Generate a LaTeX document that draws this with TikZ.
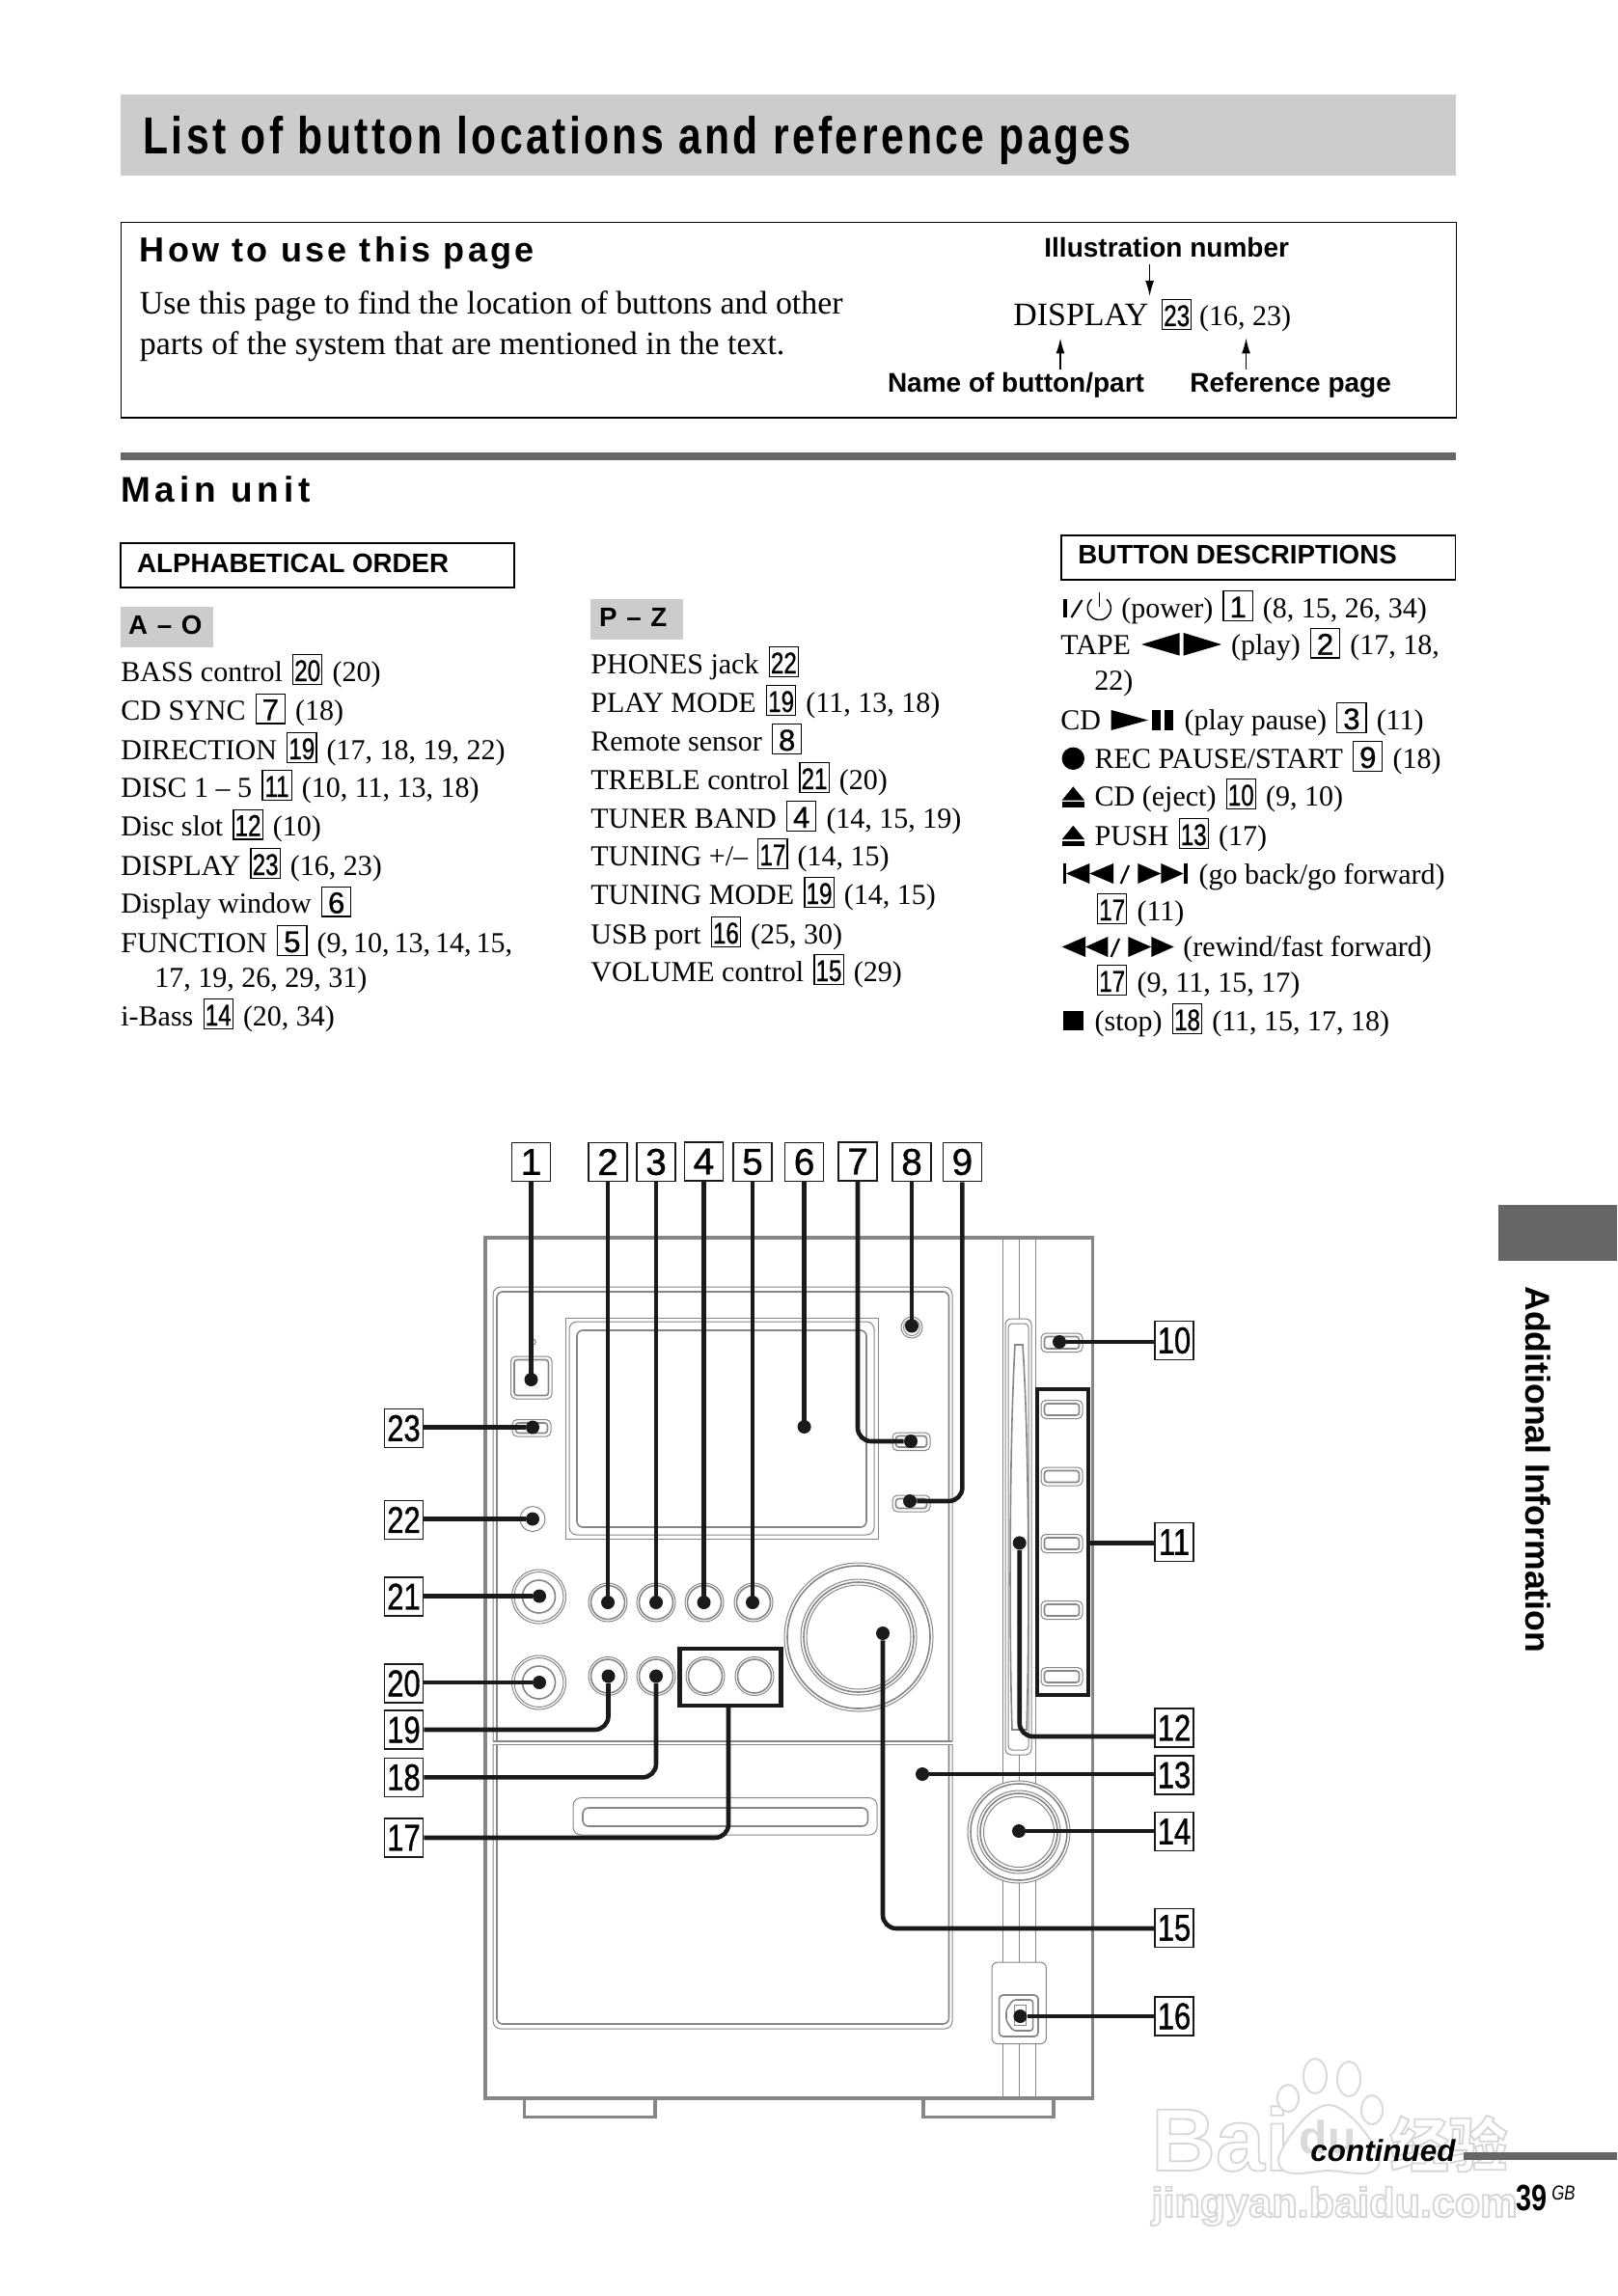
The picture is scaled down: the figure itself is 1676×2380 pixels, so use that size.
\documentclass[tikz,border=0pt]{standalone}
\usepackage{fontspec}
\usepackage{graphicx}
\setmainfont{Liberation Serif}
\setsansfont{Liberation Sans}
\newfontfamily\titlefont{Liberation Sans}[FakeStretch=0.79,LetterSpace=6.3]
\newfontfamily\headfont{Liberation Sans}[LetterSpace=9.0]
\newfontfamily\mainfont{Liberation Sans}[LetterSpace=13.0]
\newfontfamily\numfont{Liberation Sans}[FakeBold=1]
\newfontfamily\cjk{Noto Sans CJK SC}
\usetikzlibrary{arrows.meta}
\definecolor{band}{HTML}{CCCCCC}
\definecolor{darkband}{HTML}{666666}
\definecolor{unitgray}{HTML}{868686}
\definecolor{ink}{HTML}{1A1A1A}
\definecolor{wm}{HTML}{DADADA}
\newcommand\bx[1]{\kern1.3pt\relax\setlength\fboxsep{0pt}\setlength\fboxrule{.6pt}\fbox{\makebox[14.5pt]{\rule[-1.4pt]{0pt}{14.8pt}\numfont\fontsize{15.5}{16}\selectfont #1}}\kern1.3pt\relax}
\newcommand\bxx[1]{\bx{\scalebox{0.78}[1]{#1}}}
\newcommand\two[1]{\scalebox{0.8}[1]{#1}}
\newcommand\T[4]{\node[body] (#1) at (#2,#3) {#4};}
\newcommand\outl[1]{\special{pdf:code 1 Tr 0.9 w 0.84 0.84 0.84 RG}#1\special{pdf:code 0 Tr}}
\newcommand\btn[4]{\draw[thinline,rounded corners=2.5pt,fill=white] (#1,#2) rectangle (#3,#4);
  \draw[midline,rounded corners=1.5pt] (#1+3.5,#2+3.5) rectangle (#3-3.5,#4-3.5);}
\tikzset{
  body/.style={anchor=base west,inner sep=0pt,font=\fontsize{15}{18}\selectfont},
  bodylg/.style={anchor=base west,inner sep=0pt,font=\fontsize{16.95}{20}\selectfont},
  small/.style={anchor=base west,inner sep=0pt,font=\sffamily\bfseries\fontsize{14}{18}\selectfont},
  subhead/.style={anchor=base west,inner sep=0pt,font=\sffamily\bfseries\fontsize{13.85}{18}\selectfont},
  heading/.style={anchor=base west,inner sep=0pt,font=\headfont\bfseries\fontsize{18}{22}\selectfont},
  numbox/.style={draw=ink,line width=.8pt,fill=white,minimum size=20pt,inner sep=0pt,font=\numfont\fontsize{19.3}{20}\selectfont},
  dot/.style={circle,fill=ink,inner sep=0pt,minimum size=7pt},
  lead/.style={draw=ink,line width=2.3pt,rounded corners=7pt},
  unitline/.style={draw=unitgray,line width=1.7pt},
  thinline/.style={draw=unitgray,line width=.5pt},
  midline/.style={draw=unitgray,line width=.8pt},
  ptr/.style={draw=black,line width=.7pt,-{Latex[length=8pt,width=4.5pt]}},
  sym/.style={fill=black,draw=none},
}
\begin{document}
\begin{tikzpicture}[x=0.5pt,y=-0.5pt]
\useasboundingbox[fill=white] (0,0) rectangle (1676,2380);

% ---------- header
\fill[band] (125,98) rectangle (1509,182);
\node[anchor=base west,inner sep=0pt,font=\titlefont\bfseries\fontsize{27}{30}\selectfont] (title) at (148,160) {List of button locations and reference pages};
\draw[black,line width=.9pt] (125.5,230.5) rectangle (1509.5,433);
\node[heading] (howto) at (144.5,271.5) {How to use this page};
\node[bodylg] (use1) at (144.5,326) {Use this page to find the location of buttons and other};
\node[bodylg] (use2) at (144.5,368) {parts of the system that are mentioned in the text.};
\node[small] (illus) at (1082,267) {Illustration number};
\node[bodylg] (disp) at (1050,338) {DISPLAY};
\node[body] (dispn) at (1201,338) {\bxx{23}\,(16, 23)};
\node[small] (namebp) at (919.6,407) {Name of button/part};
\node[small] (refpg) at (1233,407) {Reference page};
\coordinate (i1) at (1191.6,274); \coordinate (i2) at (1191.6,307);
\coordinate (n1) at (1099,383); \coordinate (n2) at (1099,350.5);
\coordinate (r1) at (1291.5,383); \coordinate (r2) at (1291.5,350.5);
\draw[ptr] (i1) -- (i2);
\draw[ptr] (n1) -- (n2);
\draw[ptr] (r1) -- (r2);

\fill[darkband] (125,469) rectangle (1509,477);
\node[anchor=base west,inner sep=0pt,font=\mainfont\bfseries\fontsize{18.5}{22}\selectfont] (mainunit) at (125,520) {Main unit};

% ---------- column headers
\draw[black,line width=.8pt] (125,563) rectangle (533,609);
\node[subhead] (alpha) at (141.7,593) {ALPHABETICAL ORDER};
\draw[black,line width=.8pt] (1100,555) rectangle (1508.5,601);
\node[subhead] (bdesc) at (1117,584) {BUTTON DESCRIPTIONS};
\fill[band] (125,629) rectangle (221,671);
\node[subhead] (ao) at (132.7,657) {A\kern1pt\ --\ \kern1pt O};
\fill[band] (612,621) rectangle (708,663);
\node[subhead] (pz) at (620.7,649) {P\kern1pt\ --\ \kern1pt Z};

% ---------- column 1
\T{a1}{125}{706}{BASS control \bxx{20} (20)}
\T{a2}{125}{746.5}{CD SYNC \bx{7} (18)}
\T{a3}{125}{787}{DIRECTION \bxx{19} (17, 18, 19, 22)}
\T{a4}{125}{826}{DISC 1 -- 5 \bxx{11} (10, 11, 13, 18)}
\T{a5}{125}{866.5}{Disc slot \bxx{12} (10)}
\T{a6}{125}{907}{DISPLAY \bxx{23} (16, 23)}
\T{a7}{125}{946.6}{Display window \bx{6}}
\T{a8}{125}{987}{FUNCTION \bx{5} (9,\,10,\,13,\,14,\,15,}
\T{a9}{160}{1023}{17, 19, 26, 29, 31)}
\T{a10}{125}{1063}{i-Bass \bxx{14} (20, 34)}

% ---------- column 2
\T{b1}{612}{698}{PHONES jack \bxx{22}}
\T{b2}{612}{738}{PLAY MODE \bxx{19} (11, 13, 18)}
\T{b3}{612}{778}{Remote sensor \bx{8}}
\T{b4}{612}{818}{TREBLE control \bxx{21} (20)}
\T{b5}{612}{858}{TUNER BAND \bx{4} (14, 15, 19)}
\T{b6}{612}{897}{TUNING +/-- \bxx{17} (14, 15)}
\T{b7}{612}{937}{TUNING MODE \bxx{19} (14, 15)}
\T{b8}{612}{978}{USB port \bxx{16} (25, 30)}
\T{b9}{612}{1017}{VOLUME control \bxx{15} (29)}

% ---------- column 3 symbols
\fill[black] (1101.7,620.7) rectangle (1106,640);
\draw[black,line width=1.1pt] (1110.5,640) -- (1121.5,622);
\draw[black,line width=.75pt] plot[domain=-50:230,samples=40] ({1139.3+12*cos(\x)},{630.5+12*sin(\x)});
\draw[black,line width=.75pt] (1139.3,613.7) -- (1139.3,629);
\fill[sym] (1183,668) -- (1222.7,656) -- (1222.7,679.6) -- cycle;
\fill[sym] (1266,668) -- (1226.7,656) -- (1226.7,679.6) -- cycle;
\fill[sym] (1151.7,736) -- (1190,746.5) -- (1151.7,757) -- cycle;
\fill[black] (1194,736) rectangle (1202.7,757);
\fill[black] (1206.7,736) rectangle (1216,757);
\fill[black] (1112.3,786.3) circle[radius=11.7];
\fill[sym] (1112.3,815.4) -- (1124,829.5) -- (1100.7,829.5) -- cycle;
\fill[black] (1100.7,831) rectangle (1124,836.5);
\fill[sym] (1112.3,855.8) -- (1124,870) -- (1100.7,870) -- cycle;
\fill[black] (1100.7,871.6) rectangle (1124,877);
\fill[black] (1101.7,895) rectangle (1105,916);
\fill[sym] (1105,905.5) -- (1129.3,895) -- (1129.3,916) -- cycle;
\fill[sym] (1129.3,905.5) -- (1154,895) -- (1154,916) -- cycle;
\draw[black,line width=1.1pt] (1161.7,916) -- (1170,897);
\fill[sym] (1203.3,905.5) -- (1179.3,895) -- (1179.3,916) -- cycle;
\fill[sym] (1226.7,905.5) -- (1203.3,895) -- (1203.3,916) -- cycle;
\fill[black] (1226.7,895) rectangle (1230.7,916);
\fill[sym] (1100.7,981.5) -- (1125,971) -- (1125,992) -- cycle;
\fill[sym] (1125,981.5) -- (1148.3,971) -- (1148.3,992) -- cycle;
\draw[black,line width=1.1pt] (1151.7,992) -- (1160,973);
\fill[sym] (1193.3,981.5) -- (1169.3,971) -- (1169.3,992) -- cycle;
\fill[sym] (1216.7,981.5) -- (1193.3,971) -- (1193.3,992) -- cycle;
\fill[black] (1101.7,1047.7) rectangle (1123.3,1068);

% ---------- column 3 text
\T{c1}{1162}{640}{(power) \bx{1} (8, 15, 26, 34)}
\T{c2a}{1099}{678.6}{TAPE}
\T{c2b}{1275.7}{678.6}{(play) \bx{2} (17, 18,}
\T{c2c}{1134}{715.4}{22)}
\T{c3a}{1099}{756}{CD}
\T{c3b}{1227.3}{756}{(play pause) \bx{3} (11)}
\T{c4}{1134.3}{796}{REC PAUSE/START \bx{9} (18)}
\T{c5}{1134.3}{835}{CD (eject) \bxx{10} (9, 10)}
\T{c6}{1134.3}{876}{PUSH \bxx{13} (17)}
\T{c7}{1242.3}{916}{(go back/go forward)}
\T{c8}{1134}{954}{\bxx{17} (11)}
\T{c9}{1226}{991}{(rewind/fast forward)}
\T{c10}{1134}{1028}{\bxx{17} (9, 11, 15, 17)}
\T{c11}{1134.3}{1068}{(stop) \bxx{18} (11, 15, 17, 18)}

% ---------- side tab
\fill[darkband] (1553,1249) rectangle (1676,1307);
\node[anchor=base west,rotate=-90,inner sep=0pt,font=\sffamily\bfseries\fontsize{17.8}{20}\selectfont] (addinfo) at (1581,1333) {Additional Information};

% ---------- watermark
\node[anchor=base west,inner sep=0pt,text=white,font=\sffamily\bfseries\fontsize{46}{48}\selectfont] (wmbai) at (1193,2250) {\outl{Bai}};
\node[anchor=base west,inner sep=0pt,text=white,font=\cjk\bfseries\fontsize{30.5}{32}\selectfont] (wmcn) at (1440,2246) {\outl{经验}};
\node[anchor=base west,inner sep=0pt,text=white,font=\sffamily\bfseries\fontsize{21.6}{24}\selectfont] (wmurl) at (1193,2298) {\outl{jingyan.baidu.com}};
\foreach \px/\py/\prx/\pry in {1363/2152/12/18, 1398/2155/12/18, 1335/2175/11/14, 1422/2187/11/15}
  \draw[wm,line width=1pt,fill=white] (\px,\py) ellipse[x radius=\prx,y radius=\pry];
\draw[wm,line width=1pt,fill=white] (1377,2182) .. controls (1400,2182) and (1430,2230) .. (1430,2238) .. controls (1430,2262) and (1395,2250) .. (1377,2250) .. controls (1359,2250) and (1325,2262) .. (1325,2238) .. controls (1325,2230) and (1354,2182) .. (1377,2182) -- cycle;
\node[anchor=base,inner sep=0pt,text=wm,font=\sffamily\bfseries\fontsize{24}{26}\selectfont] (wmdu) at (1376,2232) {du};

% ---------- bottom right
\fill[darkband] (1517,2231) rectangle (1676,2239);
\node[anchor=base west,inner sep=0pt,font=\sffamily\bfseries\itshape\fontsize{15.7}{18}\selectfont] (cont) at (1358,2240.7) {continued};
\node[anchor=base west,inner sep=0pt,font=\sffamily\bfseries\fontsize{19}{20}\selectfont] (pg) at (1571,2291.7) {\scalebox{0.76}[1]{39}};
\node[anchor=base west,inner sep=0pt,font=\sffamily\itshape\fontsize{10.5}{12}\selectfont] (gb) at (1608,2280) {\scalebox{0.8}[1]{GB}};

% ---------- the unit
\draw[thinline] (1039,1283) -- (1039,2175);
\draw[thinline] (1056,1283) -- (1056,2175);
\draw[thinline] (1073,1283) -- (1073,2175);
\draw[unitline,line join=miter] (503,1283) rectangle (1132.6,2175);
\draw[unitline] (543.6,2175) -- (543.6,2194.6) -- (679,2194.6) -- (679,2175);
\draw[unitline] (957,2175) -- (957,2194.6) -- (1092,2194.6) -- (1092,2175);
% upper panel
\draw[thinline,rounded corners=4pt] (511,1805) -- (511,1334) -- (987,1334) -- (987,1805);
\draw[midline,rounded corners=3pt] (515,1805) -- (515,1339) -- (983.5,1339) -- (983.5,1805);
\draw[midline] (511,1805) -- (987,1805);
% lower panel
\draw[thinline,rounded corners=4pt] (511,1808) -- (511,2103) -- (987,2103) -- (987,1808);
\draw[midline,rounded corners=3pt] (515,1808) -- (515,2098) -- (983.5,2098) -- (983.5,1808);
\draw[thinline] (511,1808) -- (987,1808);
% display
\draw[thinline] (586,1366.5) rectangle (910,1595.5);
\draw[thinline,rounded corners=4pt] (590,1370) rectangle (906,1591);
\draw[midline,rounded corners=3pt] (598,1379) rectangle (898,1583);
% power
\btn{529.5}{1406}{572}{1450}
\draw[thinline] (552,1391) circle[radius=3.2];
% small buttons
\btn{531}{1471.5}{571}{1489}
\btn{925}{1485}{964}{1503.5}
\btn{925}{1550}{964}{1567}
\draw[thinline] (552,1574.5) circle[radius=13];
\draw[thinline] (945,1376) circle[radius=11];
\draw[thinline] (945,1376) circle[radius=8.5];
% knobs
\foreach \kx/\ky in {630/1661,680/1661,730/1661,781/1661,630/1737.5,680/1737.5,731/1737.5,782/1737.5}{
  \draw[thinline] (\kx,\ky) circle[radius=20];
  \draw[midline] (\kx,\ky) circle[radius=17.5];}
\foreach \ky in {1655,1744}{
  \draw[thinline] (558.5,\ky) circle[radius=28];
  \draw[thinline] (558.5,\ky) circle[radius=25.5];
  \draw[midline] (558.5,\ky) circle[radius=17];}
% dial
\draw[thinline] (890,1697) circle[radius=77];
\draw[midline] (890,1697) circle[radius=74];
\draw[thinline] (890,1697) circle[radius=60];
\draw[midline] (890,1697) circle[radius=57];
\draw[thinline] (890,1697) circle[radius=54];
% tape slot
\draw[thinline,rounded corners=4pt] (594,1863.6) rectangle (909,1902);
\draw[midline,rounded corners=3pt] (604,1874) rectangle (899.5,1893);
% CD slot
\draw[thinline,rounded corners=3pt,fill=white] (1042,1367) rectangle (1069,1819);
\draw[thinline,rounded corners=2pt] (1045,1372) rectangle (1066,1814);
\draw[midline] (1049,1793) .. controls (1046,1700) and (1046,1500) .. (1052,1394) -- (1060,1394) .. controls (1067,1500) and (1067,1700) .. (1064,1793) -- cycle;
% right buttons
\btn{1079}{1382}{1122}{1401.5}
\foreach \by in {1461,1530.5,1600,1669,1738}{\btn{1079}{\by-9.5}{1122}{\by+9.5}}
% knob 14
\draw[thinline,fill=white] (1056,1899) circle[radius=53];
\draw[midline] (1056,1899) circle[radius=50];
\draw[thinline] (1056,1899) circle[radius=43];
\draw[midline] (1056,1899) circle[radius=40];
\draw[thinline] (1056,1899) circle[radius=36.5];
% USB
\draw[thinline,rounded corners=3pt,fill=white] (1028,2034) rectangle (1084.4,2118.6);
\draw[midline,rounded corners=2pt] (1035.6,2068) rectangle (1076,2111);
\draw[midline,rounded corners=1.5pt] (1050,2073) -- (1070.6,2073) -- (1070.6,2105) -- (1050,2105) -- (1043,2095) -- (1043,2083) -- cycle;
\draw[thinline] (1051.6,2078.6) rectangle (1063,2099);

% ---------- bracket boxes
\draw[ink,line width=2.2pt,fill=none] (704.5,1709) rectangle (809.5,1768);
\draw[ink,line width=2.2pt,fill=none] (1075,1440) rectangle (1128,1757);
\coordinate (br17) at (755,1768);
\coordinate (br11) at (1128,1599.5);

% ---------- number labels
\foreach \nm/\lx/\ly/\txt in {1/550.5/1204.5/1,2/630/1204.5/2,3/680/1204.5/3,4/729.5/1204/4,5/780/1204.5/5,6/833.6/1204.5/6,7/889/1204/7,8/945/1204.5/8,9/997.4/1204.5/9,
  10/1217/1389.5/\two{10},11/1217/1598.5/\two{11},12/1217/1791/\two{12},13/1217/1840/\two{13},14/1217/1898.5/\two{14},15/1217/1998.5/\two{15},16/1217/2090/\two{16},
  17/418.5/1905/\two{17},18/418.5/1842.4/\two{18},19/418.5/1793/\two{19},20/418.5/1745/\two{20},21/418.5/1655/\two{21},22/418.5/1575.5/\two{22},23/418.5/1480.5/\two{23}}
  \node[numbox] (L\nm) at (\lx,\ly) {\txt};

% ---------- dots
\foreach \nm/\dx/\dy in {1/550.5/1430,2/630/1661,3/680/1661,4/729.5/1661,5/780/1661,6/833.6/1479,7/944/1494,8/945/1374.5,9/943/1556,10/1098/1391,12/1056.7/1599.4,13/956/1839,14/1056/1898,15/915/1693,16/1057.4/2090,18/680/1737.5,19/630.5/1737.5,20/559/1744,21/559/1654.5,22/552/1574.5,23/552/1479.5}
  \node[dot] (D\nm) at (\dx,\dy) {};

% ---------- connectors
\draw[lead] (L1.south) -- (L1.south |- D1);
\draw[lead] (L2.south) -- (L2.south |- D2);
\draw[lead] (L3.south) -- (L3.south |- D3);
\draw[lead] (L4.south) -- (L4.south |- D4);
\draw[lead] (L5.south) -- (L5.south |- D5);
\draw[lead] (L6.south) -- (L6.south |- D6);
\draw[lead] (L7.south) |- (D7);
\draw[lead] (L8.south) -- (L8.south |- D8);
\draw[lead] (L9.south) |- (D9);
\draw[lead] (D10) -- (D10 -| L10.west);
\draw[lead] (br11) -- (br11 -| L11.west);
\coordinate (e12) at (1196,1800);
\draw[lead] (D12) |- (e12);
\draw[lead] (D13) -- (D13 -| L13.west);
\draw[lead] (D14) -- (D14 -| L14.west);
\coordinate (e15) at (1196,1999);
\draw[lead] (D15) |- (e15);
\draw[lead] (D16) -- (D16 -| L16.west);
\draw[lead] (br17) |- (L17.east);
\draw[lead] (D18) |- (L18.east);
\draw[lead] (D19) |- (L19.east);
\draw[lead] (D20) -- (D20 -| L20.east);
\draw[lead] (D21) -- (D21 -| L21.east);
\draw[lead] (D22) -- (D22 -| L22.east);
\draw[lead] (D23) -- (D23 -| L23.east);
\end{tikzpicture}
\end{document}
